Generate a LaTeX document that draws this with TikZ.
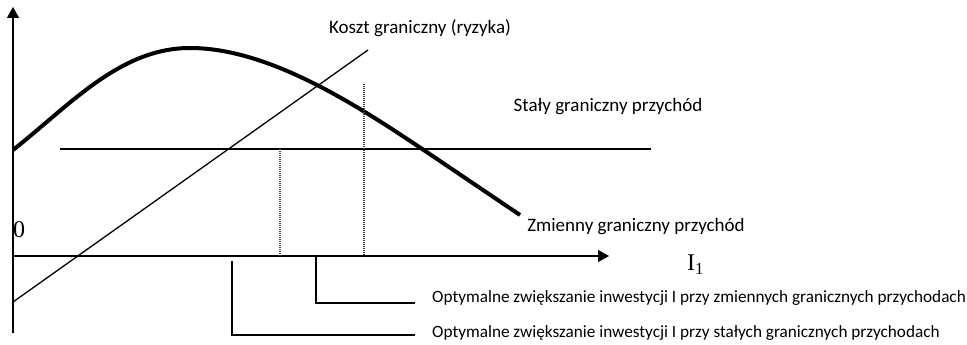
\documentclass[tikz,border=0pt]{standalone}
\usepackage{fontspec}
\setmainfont{Carlito}
\newfontfamily\serifnum{Liberation Serif}
\usetikzlibrary{arrows.meta}
\begin{document}
\begin{tikzpicture}[x=1pt,y=-1pt,
  axis/.style={line width=1.2pt,-{Triangle[length=11pt,width=12pt]}},
  thin/.style={line width=1.3pt},
  flat/.style={line width=1.9pt},
  bold/.style={line width=4pt},
  guide/.style={line width=1.1pt,black!75,dash pattern=on 1pt off 1pt},
  bracket/.style={line width=1.8pt},
  label/.style={font=\fontsize{19}{22}\selectfont,inner sep=0pt},
  note/.style={font=\fontsize{17.2}{20}\selectfont,inner sep=0pt,anchor=west},
  sym/.style={font=\serifnum\fontsize{24}{26}\selectfont,inner sep=0pt}]
\useasboundingbox (0,0) rectangle (967,345);

% axes
\coordinate (O) at (13,256);
\coordinate (ytop) at (13,7);
\coordinate (ybot) at (13,333);
\coordinate (xend) at (609,256);
\draw[axis] (ybot) -- (ytop);
\draw[axis] (O) -- (xend);
\node[sym] (zero) at (19,230) {0};
\node[sym,anchor=west] (ilab) at (687,265) {I\textsubscript{1}};

% marginal cost line
\coordinate (c0) at (13,302);
\coordinate (c1) at (368,50);
\draw[thin] (c0) -- (c1);

% constant marginal revenue
\coordinate (h0) at (60,149);
\coordinate (h1) at (651,149);
\draw[flat] (h0) -- (h1);

% variable marginal revenue
\coordinate (v0) at (13,150);
\coordinate (vpeak) at (190,48);
\coordinate (vbend) at (440,161);
\coordinate (v1) at (520,215);
\draw[bold] (v0) .. controls (70,105) and (120,48) .. (vpeak)
  .. controls (275,48) and (370,114) .. (vbend) -- (v1);

% optimum guides
\coordinate (g1t) at (280,149);
\coordinate (g1b) at (280,256);
\coordinate (g2t) at (364,84);
\coordinate (g2b) at (364,256);
\draw[guide] (g1t) -- (g1b);
\draw[guide] (g2t) -- (g2b);

% curve labels
\node[label] (lcost) at (420,28) {Koszt graniczny (ryzyka)};
\node[label] (lconst) at (608,107) {Stały graniczny przychód};
\node[label] (lvar) at (636,227) {Zmienny graniczny przychód};

% optimum notes
\node[note] (nvar) at (432,298) {Optymalne zwiększanie inwestycji I przy zmiennych granicznych przychodach};
\node[note] (nconst) at (432,333) {Optymalne zwiększanie inwestycji I przy stałych granicznych przychodach};

\coordinate (b1a) at (316,256);
\coordinate (b1b) at (316,303);
\coordinate (b1c) at (415,303);
\coordinate (b2a) at (232,261);
\coordinate (b2b) at (232,335);
\coordinate (b2c) at (415,335);
\draw[bracket] (b1a) -- (b1b) -- (b1c);
\draw[bracket] (b2a) -- (b2b) -- (b2c);
\end{tikzpicture}
\end{document}
